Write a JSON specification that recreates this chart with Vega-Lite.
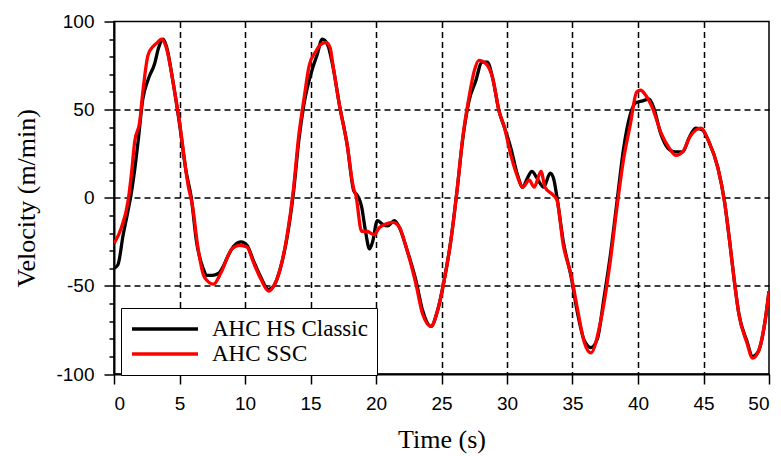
{
  "$schema": "https://vega.github.io/schema/vega-lite/v6.json",
  "width": 655,
  "height": 352.5,
  "autosize": "none",
  "padding": {"left": 114, "top": 21.5, "right": 12, "bottom": 82},
  "background": "white",
  "config": {"view": {"stroke": "black", "strokeWidth": 1.5}},
  "datasets": {
    "classic": [
      {"t":0,"v":-40},{"t":0.3,"v":-38},{"t":0.7,"v":-21},{"t":1.0,"v":-10},{"t":1.33,"v":3},{"t":1.6,"v":17},{"t":1.84,"v":32},{"t":2.2,"v":56},{"t":2.6,"v":67},{"t":3.1,"v":76},{"t":3.4,"v":85},{"t":3.75,"v":90},{"t":4.0,"v":86},{"t":4.5,"v":66},{"t":5.0,"v":42},{"t":5.5,"v":15},{"t":5.9,"v":0},{"t":6.3,"v":-25},{"t":6.8,"v":-40},{"t":7.07,"v":-44},{"t":7.5,"v":-44},{"t":7.96,"v":-43},{"t":8.4,"v":-38},{"t":8.7,"v":-33},{"t":9.2,"v":-27},{"t":9.7,"v":-25},{"t":10.15,"v":-27},{"t":10.66,"v":-36},{"t":11.2,"v":-45},{"t":11.8,"v":-52},{"t":12.2,"v":-50},{"t":12.7,"v":-40},{"t":13.2,"v":-23},{"t":13.7,"v":3},{"t":14.1,"v":32},{"t":14.5,"v":53},{"t":15.1,"v":72},{"t":15.5,"v":81},{"t":15.9,"v":90},{"t":16.3,"v":87},{"t":16.7,"v":75},{"t":17.2,"v":53},{"t":17.8,"v":30},{"t":18.3,"v":4},{"t":18.6,"v":1},{"t":18.9,"v":-5},{"t":19.2,"v":-19},{"t":19.5,"v":-29},{"t":19.74,"v":-25},{"t":20.1,"v":-13},{"t":20.5,"v":-15},{"t":20.9,"v":-16},{"t":21.4,"v":-13},{"t":21.8,"v":-17},{"t":22.3,"v":-28},{"t":23.05,"v":-47},{"t":23.56,"v":-64},{"t":24.2,"v":-73},{"t":24.7,"v":-64},{"t":25.2,"v":-47},{"t":25.7,"v":-25},{"t":26.2,"v":5},{"t":26.6,"v":32},{"t":27.1,"v":55},{"t":27.6,"v":66},{"t":28.1,"v":77},{"t":28.5,"v":77},{"t":28.9,"v":68},{"t":29.4,"v":49},{"t":29.8,"v":40},{"t":30.3,"v":28},{"t":30.8,"v":13},{"t":31.2,"v":6},{"t":31.55,"v":11},{"t":31.9,"v":15},{"t":32.3,"v":11},{"t":32.8,"v":6},{"t":33.3,"v":14},{"t":33.55,"v":11},{"t":33.8,"v":1},{"t":34.3,"v":-25},{"t":34.9,"v":-45},{"t":35.4,"v":-66},{"t":35.9,"v":-81},{"t":36.4,"v":-85},{"t":36.9,"v":-80},{"t":37.4,"v":-57},{"t":37.9,"v":-32},{"t":38.4,"v":-2},{"t":38.9,"v":28},{"t":39.4,"v":47},{"t":39.85,"v":54},{"t":40.35,"v":55},{"t":40.86,"v":56},{"t":41.2,"v":51},{"t":41.75,"v":36},{"t":42.3,"v":28},{"t":42.9,"v":26},{"t":43.4,"v":26},{"t":43.9,"v":34},{"t":44.4,"v":39.5},{"t":44.9,"v":38.5},{"t":45.4,"v":32},{"t":46.1,"v":17},{"t":46.6,"v":-2},{"t":47.0,"v":-25},{"t":47.35,"v":-47},{"t":47.7,"v":-66},{"t":48.3,"v":-81},{"t":48.75,"v":-90},{"t":49.2,"v":-87},{"t":49.7,"v":-70},{"t":50.0,"v":-53}
    ],
    "ssc": [
      {"t":0,"v":-26},{"t":0.56,"v":-17},{"t":1.07,"v":-2},{"t":1.35,"v":15},{"t":1.58,"v":32},{"t":1.96,"v":43},{"t":2.2,"v":60},{"t":2.6,"v":81},{"t":3.0,"v":86},{"t":3.3,"v":88},{"t":3.6,"v":90},{"t":4.0,"v":85},{"t":4.5,"v":66},{"t":5.0,"v":43},{"t":5.66,"v":7},{"t":6.0,"v":-5},{"t":6.4,"v":-28},{"t":6.9,"v":-45},{"t":7.6,"v":-49},{"t":8.2,"v":-42},{"t":9.0,"v":-29},{"t":9.6,"v":-27},{"t":10.15,"v":-28},{"t":10.66,"v":-37},{"t":11.2,"v":-46},{"t":11.8,"v":-53},{"t":12.2,"v":-50},{"t":12.7,"v":-40},{"t":13.2,"v":-22},{"t":13.7,"v":5},{"t":14.1,"v":35},{"t":14.5,"v":56},{"t":14.9,"v":75},{"t":15.4,"v":83},{"t":15.8,"v":87},{"t":16.2,"v":88},{"t":16.5,"v":85},{"t":16.7,"v":76},{"t":17.2,"v":53},{"t":17.8,"v":30},{"t":18.3,"v":5},{"t":18.45,"v":2},{"t":18.9,"v":-19},{"t":19.3,"v":-19},{"t":19.85,"v":-21},{"t":20.25,"v":-17},{"t":20.7,"v":-15},{"t":21.3,"v":-14},{"t":21.8,"v":-17},{"t":22.3,"v":-28},{"t":23.05,"v":-49},{"t":23.56,"v":-66},{"t":24.2,"v":-73},{"t":24.7,"v":-64},{"t":25.2,"v":-47},{"t":25.7,"v":-25},{"t":26.2,"v":5},{"t":26.6,"v":33},{"t":27.1,"v":57},{"t":27.5,"v":72},{"t":27.85,"v":78},{"t":28.4,"v":76},{"t":28.9,"v":68},{"t":29.4,"v":49},{"t":29.8,"v":40},{"t":30.3,"v":24},{"t":30.8,"v":12},{"t":31.2,"v":6},{"t":31.7,"v":10},{"t":32.07,"v":6},{"t":32.6,"v":15},{"t":32.9,"v":6},{"t":33.45,"v":2},{"t":33.8,"v":-1},{"t":34.3,"v":-27},{"t":34.9,"v":-44},{"t":35.4,"v":-64},{"t":35.9,"v":-82},{"t":36.4,"v":-88},{"t":37.15,"v":-70},{"t":37.4,"v":-60},{"t":37.9,"v":-35},{"t":38.4,"v":-5},{"t":38.9,"v":22},{"t":39.4,"v":41},{"t":39.9,"v":60},{"t":40.2,"v":61},{"t":40.6,"v":58},{"t":41.1,"v":51},{"t":41.75,"v":37},{"t":42.4,"v":28},{"t":42.9,"v":24},{"t":43.4,"v":26},{"t":44.0,"v":35},{"t":44.8,"v":39.5},{"t":45.4,"v":32},{"t":46.1,"v":17},{"t":46.6,"v":-2},{"t":47.0,"v":-25},{"t":47.35,"v":-47},{"t":47.7,"v":-66},{"t":48.3,"v":-82},{"t":48.75,"v":-91},{"t":49.2,"v":-87},{"t":49.7,"v":-70},{"t":50.0,"v":-53}
    ]
  },
  "layer": [
    {
      "data": {"name": "classic"},
      "transform": [{"calculate": "'AHC HS Classic'", "as": "series"}],
      "mark": {"type": "line", "strokeWidth": 3.3, "interpolate": "monotone", "clip": true},
      "encoding": {
        "x": {"field": "t", "type": "quantitative"},
        "y": {"field": "v", "type": "quantitative"},
        "color": {"field": "series", "type": "nominal"}
      }
    },
    {
      "data": {"name": "ssc"},
      "transform": [{"calculate": "'AHC SSC'", "as": "series"}],
      "mark": {"type": "line", "strokeWidth": 3.3, "interpolate": "monotone", "clip": true},
      "encoding": {
        "x": {"field": "t", "type": "quantitative"},
        "y": {"field": "v", "type": "quantitative"},
        "color": {"field": "series", "type": "nominal"}
      }
    }
  ],
  "encoding": {
    "x": {
      "field": "t", "type": "quantitative",
      "scale": {"domain": [0, 50], "nice": false, "zero": false},
      "axis": {
        "values": [0,5,10,15,20,25,30,35,40,45,50],
        "labelExpr": "'' + datum.value",
        "grid": true, "gridColor": "black", "gridDash": [6,4], "gridWidth": 1.5,
        "gridOpacity": {"condition": {"test": "datum.value > 0 && datum.value < 50", "value": 1}, "value": 0},
        "domainColor": "black", "domainWidth": 2, "tickColor": "black", "tickWidth": 1.5, "tickSize": 10,
        "labelFont": "Liberation Sans", "labelFontSize": 19, "labelColor": "black", "labelPadding": 10,
        "title": "Time (s)", "titleFont": "Liberation Serif", "titleFontSize": 26, "titleFontWeight": "normal", "titleColor": "black", "titlePadding": 13
      }
    },
    "y": {
      "field": "v", "type": "quantitative",
      "scale": {"domain": [-100, 100], "nice": false},
      "axis": {
        "values": [-100,-90,-80,-70,-60,-50,-40,-30,-20,-10,0,10,20,30,40,50,60,70,80,90,100],
        "labelExpr": "datum.value % 50 === 0 ? '' + datum.value : ''",
        "tickSize": {"condition": {"test": "datum.value % 50 === 0", "value": 10}, "value": 5},
        "grid": true, "gridColor": "black", "gridDash": [6,4], "gridWidth": 1.5,
        "gridOpacity": {"condition": {"test": "datum.value % 50 === 0 && abs(datum.value) < 100", "value": 1}, "value": 0},
        "domainColor": "black", "domainWidth": 2, "tickColor": "black", "tickWidth": 1.5,
        "labelFont": "Liberation Sans", "labelFontSize": 19, "labelColor": "black", "labelPadding": 10,
        "title": "Velocity (m/min)", "titleFont": "Liberation Serif", "titleFontSize": 26, "titleFontWeight": "normal", "titleColor": "black", "titlePadding": 16
      }
    },
    "color": {
      "field": "series", "type": "nominal",
      "scale": {"domain": ["AHC HS Classic", "AHC SSC"], "range": ["black", "#ff0000"]},
      "legend": {
        "title": null, "orient": "none", "legendX": 7, "legendY": 286.5,
        "fillColor": "white", "strokeColor": "black", "padding": 9, "cornerRadius": 0,
        "symbolType": "M-1,0H5.6", "symbolSize": 400, "symbolStrokeWidth": 3.5,
        "labelFont": "Liberation Serif", "labelFontSize": 23, "labelColor": "black", "labelOffset": 58,
        "rowPadding": 1
      }
    }
  }
}
